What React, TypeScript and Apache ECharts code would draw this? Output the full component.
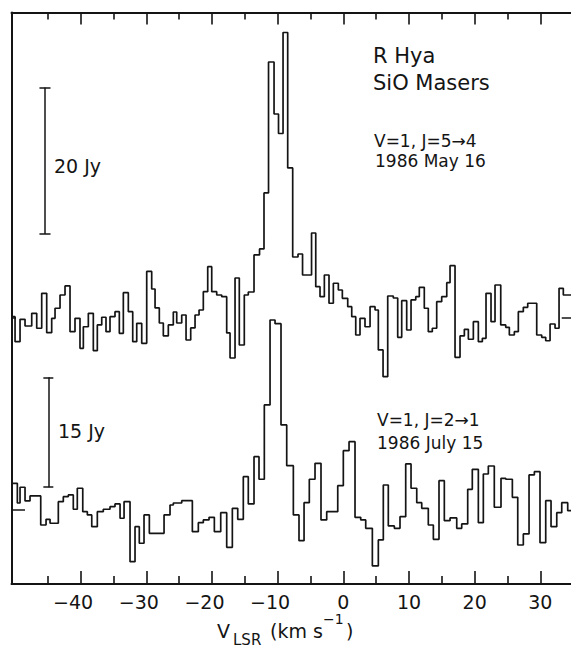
import React, { useEffect, useRef } from "react";
import * as echarts from "echarts";

// ---------- data ----------
// Upper spectrum: V=1, J=5-4, 1986 May 16. Channel left edges (km/s) + final right edge.
const topVelocity = [
  -50.5, -49.99, -49.23, -48.47, -47.45, -46.69, -45.93, -45.17, -44.41, -43.9,
  -43.14, -42.38, -41.62, -40.86, -40.1, -39.59, -38.83, -38.07, -37.46, -36.79,
  -36.14, -35.53, -34.77, -34.11, -33.5, -32.74, -32.07, -31.46, -30.7, -29.94,
  -29.18, -28.67, -28.02, -27.41, -26.65, -25.89, -25.37, -24.61, -23.95, -23.24,
  -22.58, -21.97, -21.32, -20.65, -20.04, -19.28, -18.52, -17.76, -17.25, -16.49,
  -15.84, -15.08, -14.47, -13.6, -12.76, -12.08, -11.39, -10.55, -9.87, -9.18,
  -8.47, -7.71, -6.9, -6.21, -4.84, -4.2, -3.55, -2.89, -2.18, -1.52,
  -0.76, -0.15, 0.67, 1.28, 1.89, 2.54, 3.3, 4.07, 4.83, 5.33,
  6.05, 6.76, 7.61, 8.28, 8.89, 9.65, 10.31, 11.03, 11.57, 12.33,
  12.94, 13.55, 14.22, 14.98, 15.75, 16.25, 17.01, 17.77, 18.43, 19.04,
  19.8, 20.56, 21.17, 21.73, 22.49, 23.1, 23.97, 24.73, 25.28, 26.04,
  26.65, 27.41, 28.08, 29.45, 30.21, 30.82, 31.48, 32.24, 32.85, 33.5,
  34.67,
];
// Flux density per channel (Jy)
const topFlux = [
  0.11, -3.3, -0.25, -1.16, 0.57, -1.47, 3.3, -2.07, -0.11, 1.26,
  3.07, 4.3, -1.94, -0.11, -4.2, -1.26, 0.57, -4.53, -1.02, 0.03,
  -1.94, 0.11, 0.79, -2.16, 3.38, 0.79, -3.3, -0.79, -3.52, 6.28,
  3.89, 1.3, -0.75, -2.52, -1.02, 0.75, -0.75, 0.34, -3.07, -1.43,
  0.34, 1.02, 3.52, 6.93, 3.52, 3.07, 2.84, -2.11, -5.53, 5.39,
  -3.75, 3.07, 3.48, 8.53, 9.35, 16.99, 34.86, 27.76, 25.1, 38.88,
  20.4, 8.25, 8.66, 5.8, 11.53, 4.2, 2.84, 5.8, 1.94, 4.67,
  3.75, 2.62, 1.47, 0.11, -2.39, -0.11, -1.26, 1.47, 1.02, -4.43,
  -8.08, 2.93, 2.66, -2.7, 2.29, -1.71, 2.39, 2.84, 4.12, 1.26,
  -1.94, -1.47, 2.16, 2.84, 4.75, 7.07, -5.43, -2.52, -1.61, -2.97,
  -0.57, -3.3, -2.84, 3.3, -0.57, 4.43, -1.02, -1.34, -2.39, -1.94,
  0.79, 1.39, 1.94, -2.39, -2.7, -3.17, -0.89, -1.47, 3.98, 3.07,
];

// Lower spectrum: V=1, J=2-1, 1986 July 15.
const bottomVelocity = [
  -50.5, -49.64, -49.23, -48.47, -47.71, -46.08, -45.27, -44.66, -43.4, -42.64,
  -41.88, -41.12, -40.51, -39.68, -38.98, -38.31, -37.46, -36.55, -35.53, -34.77,
  -34.0, -33.39, -32.48, -31.72, -31.07, -30.35, -29.54, -27.3, -26.39, -25.89,
  -24.61, -22.99, -22.08, -21.32, -20.45, -19.64, -18.67, -17.76, -16.9, -16.08,
  -15.23, -14.47, -13.6, -12.84, -12.03, -11.16, -10.4, -9.49, -8.62, -7.61,
  -6.75, -5.98, -5.18, -4.31, -3.4, -2.53, -0.85, 0.0, 0.87, 1.78,
  2.65, 3.41, 4.42, 5.33, 6.09, 6.85, 7.77, 8.63, 9.5, 10.31,
  11.18, 11.94, 12.94, 13.71, 14.57, 15.38, 16.25, 17.27, 18.03, 18.94,
  19.64, 20.56, 21.32, 22.08, 22.99, 24.01, 24.73, 25.74, 26.56, 27.41,
  28.28, 29.09, 29.95, 30.82, 31.63, 32.5, 33.26, 34.17, 34.67,
];
const bottomFlux = [
  3.64, 0.95, 3.1, 1.23, 1.91, -2.05, -1.27, -1.81, 1.13, 1.81,
  2.05, 0.1, 2.96, -0.23, -0.68, -2.28, -0.23, 0.1, 0.45, 0.82,
  -1.13, 1.13, -7.05, -2.28, -4.54, -0.68, -3.18, -0.68, 0.68, 0.95,
  1.27, -2.96, -1.73, -1.36, -1.0, -2.96, -0.37, -5.09, 0.23, -1.27,
  4.54, 0.82, 7.27, 4.19, 14.33, 25.92, 25.42, 11.6, 6.04, -0.68,
  -4.19, 1.0, 4.19, 6.37, -1.36, -0.23, 3.32, 8.09, 9.32, -1.0,
  -1.36, -2.5, -7.64, -4.09, 3.41, -2.18, -2.5, -0.91, 6.28, 2.96,
  1.0, 0.23, -2.05, -4.0, 4.0, -1.46, -1.09, -2.5, -1.91, 2.82,
  5.55, -1.73, 4.91, 6.0, 0.37, 4.32, 4.19, 1.73, -4.78, -3.27,
  4.78, 5.23, -4.46, 1.27, -2.28, -0.37, 1.0, -0.1,
];

// Axis ticks (km/s)
const majorTicks = [-40, -30, -20, -10, 0, 10, 20, 30];
const minorTicks = [-45, -35, -25, -15, -5, 5, 15, 25];

// Vertical placement of the two spectra (Jy on a shared plotting scale)
const TOP_OFFSET = 36.36;
const BOTTOM_OFFSET = 10.1;
const X_MIN = -50.53;
const X_MAX = 34.67;
const Y_MAX = 77.97;

// Flux scale bars: [velocity, start above baseline (Jy), length (Jy), cap half-width (km/s)]
const topScaleBar = [-45.43, 11.39, 20, 0.84];
const bottomScaleBar = [-44.92, 3.1, 15, 0.76];

// Zero-level markers [from velocity, to velocity]
const topZeroMarks = [
  [X_MIN, -49.84],
  [33.26, X_MAX],
];
const bottomZeroMarks = [[X_MIN, -48.47]];

const INK = "#141414";
const FONT = "DejaVu Sans";

function stepPoints(vel: number[], flux: number[], offset: number) {
  return vel.map((v, i) => [v, offset + flux[Math.min(i, flux.length - 1)]]);
}

function scaleBarSegments(bar: number[], offset: number) {
  const [v, from, len, cap] = bar;
  const y0 = offset + from;
  const y1 = y0 + len;
  return [
    { coords: [[v, y0], [v, y1]] },
    { coords: [[v - cap, y0], [v + cap, y0]] },
    { coords: [[v - cap, y1], [v + cap, y1]] },
  ];
}

export default function App() {
  const ref = useRef<HTMLDivElement>(null);

  useEffect(() => {
    if (!ref.current) return;
    const chart = echarts.init(ref.current, undefined, { renderer: "svg" });

    const lineStyle = { color: INK, width: 2 };
    const axisBase = {
      type: "value",
      min: X_MIN,
      max: X_MAX,
      splitLine: { show: false },
    };

    const segs = [
      ...scaleBarSegments(topScaleBar, TOP_OFFSET),
      ...scaleBarSegments(bottomScaleBar, BOTTOM_OFFSET),
      ...topZeroMarks.map((m) => ({ coords: [[m[0], TOP_OFFSET], [m[1], TOP_OFFSET]] })),
      ...bottomZeroMarks.map((m) => ({ coords: [[m[0], BOTTOM_OFFSET], [m[1], BOTTOM_OFFSET]] })),
    ];

    const txt = (text: string, x: number, y: number, size: number) => ({
      type: "text",
      x,
      y,
      silent: true,
      style: {
        text,
        fill: INK,
        font: `${size}px "${FONT}"`,
        align: "left",
        verticalAlign: "middle",
      },
    });

    chart.setOption({
      animation: false,
      backgroundColor: "#ffffff",
      grid: {
        left: 11.5,
        right: 0,
        top: 12.5,
        bottom: 66,
        containLabel: false,
        outerBoundsMode: "none",
      },
      xAxis: [
        {
          ...axisBase,
          position: "bottom",
          axisLine: { show: true, onZero: false, lineStyle },
          axisTick: {
            show: true,
            inside: true,
            length: 13,
            customValues: majorTicks,
            lineStyle: { color: INK, width: 1.6 },
          },
          axisLabel: {
            show: true,
            customValues: majorTicks,
            margin: 8,
            color: INK,
            fontFamily: FONT,
            fontSize: 19,
            formatter: (v: number) =>
              v < 0 ? `{t|\u2212${Math.abs(v)}}{p|\u00a0}` : `{t|${v}}`,
            rich: {
              t: { fontFamily: FONT, fontSize: 19, color: INK },
              p: { fontFamily: FONT, fontSize: 19, width: 15 },
            },
          },
        },
        {
          ...axisBase,
          position: "top",
          axisLine: { show: true, onZero: false, lineStyle },
          axisTick: {
            show: true,
            inside: true,
            length: 12,
            customValues: majorTicks,
            lineStyle: { color: INK, width: 1.6 },
          },
          axisLabel: { show: false },
        },
        {
          ...axisBase,
          position: "bottom",
          axisLine: { show: false, onZero: false },
          axisTick: {
            show: true,
            inside: true,
            length: 8,
            customValues: minorTicks,
            lineStyle: { color: INK, width: 1.6 },
          },
          axisLabel: { show: false },
        },
        {
          ...axisBase,
          position: "top",
          axisLine: { show: false, onZero: false },
          axisTick: {
            show: true,
            inside: true,
            length: 7,
            customValues: minorTicks,
            lineStyle: { color: INK, width: 1.6 },
          },
          axisLabel: { show: false },
        },
      ],
      yAxis: {
        type: "value",
        min: 0,
        max: Y_MAX,
        axisLine: { show: true, onZero: false, lineStyle },
        axisTick: { show: false },
        axisLabel: { show: false },
        splitLine: { show: false },
      },
      series: [
        {
          type: "line",
          name: "J=5-4",
          step: "end",
          data: stepPoints(topVelocity, topFlux, TOP_OFFSET),
          showSymbol: false,
          symbol: "none",
          silent: true,
          lineStyle: { color: INK, width: 1.7 },
        },
        {
          type: "line",
          name: "J=2-1",
          step: "end",
          data: stepPoints(bottomVelocity, bottomFlux, BOTTOM_OFFSET),
          showSymbol: false,
          symbol: "none",
          silent: true,
          lineStyle: { color: INK, width: 1.7 },
        },
        {
          type: "lines",
          coordinateSystem: "cartesian2d",
          silent: true,
          data: segs,
          lineStyle: { color: INK, width: 1.5, opacity: 1 },
        },
      ],
      graphic: [
        txt("R Hya", 373, 56, 21),
        txt("SiO Masers", 373, 83, 21),
        txt("V=1, J=5\u21924", 374, 141, 17),
        txt("1986 May 16", 375, 161, 17),
        txt("V=1, J=2\u21921", 377, 420, 17),
        txt("1986 July 15", 377, 443, 17),
        txt("20 Jy", 54, 165.5, 19),
        txt("15 Jy", 58, 431, 19),
        txt("V", 217, 631, 19),
        txt("LSR", 233, 640, 15),
        txt("(km s", 270, 631, 19),
        txt("\u22121", 323, 619, 14),
        txt(")", 346, 631, 19),
      ],
    });

    return () => chart.dispose();
  }, []);

  return (
    <div
      ref={ref}
      style={{
        position: "fixed",
        left: 0,
        top: 0,
        width: 571,
        height: 650,
        background: "#fff",
      }}
    />
  );
}
